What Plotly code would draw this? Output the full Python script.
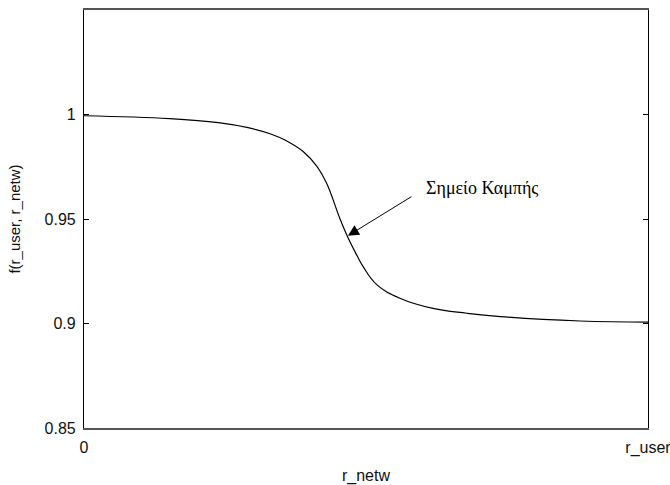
import plotly.graph_objects as go

# Data (x normalised: 0 .. r_user -> 0 .. 1)
x_vals = [0.0, 0.152, 0.238, 0.291, 0.330, 0.359, 0.389, 0.413, 0.430, 0.454, 0.469,
          0.484, 0.495, 0.519, 0.560, 0.619, 0.679, 0.738, 0.879, 1.0]
y_vals = [0.9994, 0.9980, 0.9961, 0.9937, 0.9908, 0.9874, 0.9822, 0.9752, 0.9672, 0.9500, 0.9405,
          0.9325, 0.9272, 0.9186, 0.9121, 0.9072, 0.9049, 0.9033, 0.9012, 0.9007]

x_tickvals = [0, 1]
x_ticktext = ["0", "r_user"]
y_tickvals = [0.85, 0.9, 0.95, 1.0]
y_ticktext = ["0.85", "0.9", "0.95", "1"]

annot_point = (0.468, 0.942)
annot_text = "Σημείο Καμπής"

fig = go.Figure()
fig.add_trace(go.Scatter(x=x_vals, y=y_vals, mode="lines",
                         line=dict(color="black", width=1.2, shape="spline", smoothing=1.2),
                         showlegend=False, hoverinfo="skip"))

fig.add_annotation(x=annot_point[0], y=annot_point[1], xref="x", yref="y",
                   ax=65, ay=-40, axref="pixel", ayref="pixel",
                   text="", showarrow=True, arrowhead=2, arrowsize=2.2,
                   arrowwidth=1, arrowcolor="black")
fig.add_annotation(x=annot_point[0], y=annot_point[1], xref="x", yref="y",
                   xshift=134, yshift=48, text=annot_text, showarrow=False,
                   font=dict(family="Liberation Serif", size=18, color="black"))

fig.update_layout(
    width=670, height=485,
    margin=dict(l=84, r=22, t=10, b=57, autoexpand=False),
    paper_bgcolor="white", plot_bgcolor="white",
    font=dict(family="Liberation Sans, Arial", size=16, color="#111"),
    xaxis=dict(range=[0, 1], tickvals=x_tickvals, ticktext=x_ticktext,
               showgrid=False, zeroline=False, showline=True, linecolor="#555",
               linewidth=1.5, mirror=True, ticks="", ticklabelstandoff=4,
               ticklabeloverflow="allow", automargin=False,
               title=dict(text="r_netw", font=dict(size=16), standoff=14)),
    yaxis=dict(range=[0.85, 1.05], tickvals=y_tickvals, ticktext=y_ticktext,
               showgrid=False, zeroline=False, showline=True, linecolor="black",
               linewidth=1.2, mirror="ticks", ticks="inside", ticklen=5,
               tickcolor="black", ticklabelstandoff=4, automargin=False,
               title=dict(text="f(r_user, r_netw)", font=dict(size=15), standoff=20)),
)

fig.write_html("out.html", config={"displayModeBar": False},
               post_script="document.body.style.margin='0';document.body.style.overflow='hidden';")
